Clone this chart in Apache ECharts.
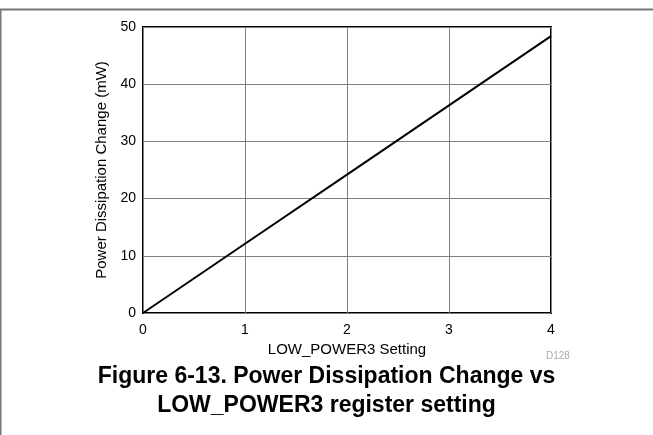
<!DOCTYPE html>
<html>
<head>
<meta charset="utf-8">
<script src="https://cdn.jsdelivr.net/npm/echarts@6/dist/echarts.min.js"></script>
<style>html,body{margin:0;padding:0;background:#fff}#c{width:653px;height:435px}</style>
</head>
<body>
<div id="c"></div>
<script>
const xValues = [0, 1, 2, 3, 4];
const powerChange = [0, 12.1, 24.2, 36.3, 48.4];
const xTicks = [0, 1, 2, 3, 4];
const yTicks = [0, 10, 20, 30, 40, 50];
const xName = 'LOW_POWER3 Setting';
const yName = 'Power Dissipation Change (mW)';
const titleLines = ['Figure 6-13. Power Dissipation Change vs', 'LOW_POWER3 register setting'];
const noteText = 'D128';

const chart = echarts.init(document.getElementById('c'), null, {renderer: 'canvas'});
const F = 'Liberation Sans, Arial, sans-serif';
chart.setOption({
  animation: false,
  backgroundColor: '#fff',
  grid: {left: 143, right: 102, top: 27, bottom: 122, show: true, borderColor: '#000', borderWidth: 2, backgroundColor: 'transparent'},
  xAxis: {
    type: 'value', min: xTicks[0], max: xTicks[xTicks.length - 1], interval: 1,
    name: xName, nameLocation: 'middle', nameGap: 28,
    nameTextStyle: {fontFamily: F, fontSize: 15, color: '#000'},
    axisLine: {show: false}, axisTick: {show: false},
    axisLabel: {fontFamily: F, fontSize: 14, color: '#000', margin: 10},
    splitLine: {show: true, lineStyle: {color: '#808080', width: 1}}
  },
  yAxis: {
    type: 'value', min: yTicks[0], max: yTicks[yTicks.length - 1], interval: 10,
    name: yName, nameLocation: 'middle', nameGap: 33,
    nameTextStyle: {fontFamily: F, fontSize: 15, color: '#000'},
    axisLine: {show: false}, axisTick: {show: false},
    axisLabel: {fontFamily: F, fontSize: 14, color: '#000', margin: 7},
    splitLine: {show: true, lineStyle: {color: '#808080', width: 1}}
  },
  series: [{
    type: 'line', data: xValues.map((x, i) => [x, powerChange[i]]),
    showSymbol: false, lineStyle: {color: '#000', width: 2}, z: 5
  }],
  graphic: [
    {type: 'line', shape: {x1: 0, y1: 9.5, x2: 653, y2: 9.5}, style: {stroke: '#777', lineWidth: 2}},
    {type: 'line', shape: {x1: 0.5, y1: 9, x2: 0.5, y2: 435}, style: {stroke: '#777', lineWidth: 2}},
    {type: 'text', left: 546, top: 351, style: {text: noteText, font: '10px ' + F, fill: '#aaa'}},
    {type: 'text', left: 'center', top: 365, style: {text: titleLines[0], font: 'bold 23px ' + F, fill: '#000'}},
    {type: 'text', left: 'center', top: 394, style: {text: titleLines[1], font: 'bold 23px ' + F, fill: '#000'}}
  ]
});
</script>
</body>
</html>
